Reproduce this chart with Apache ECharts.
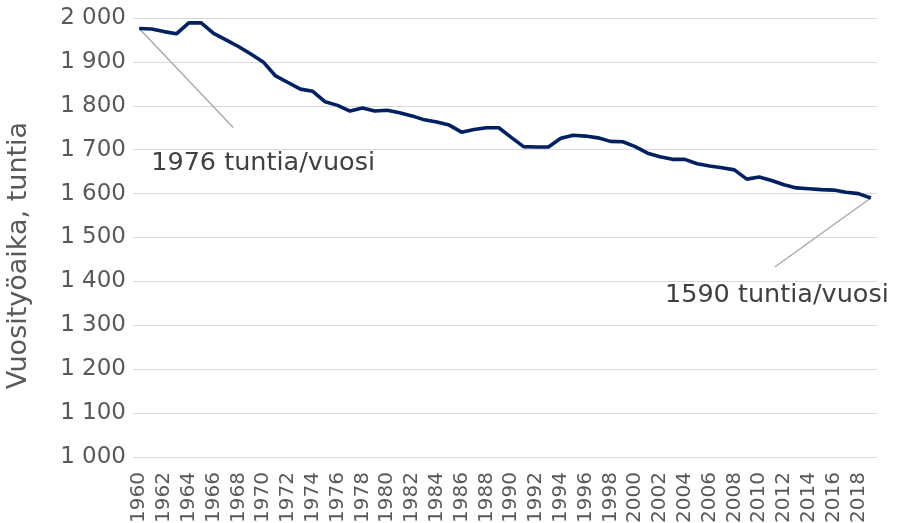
<!DOCTYPE html>
<html>
<head>
<meta charset="utf-8">
<script src="https://cdn.jsdelivr.net/npm/echarts@6/dist/echarts.min.js"></script>
<style>
html,body{margin:0;padding:0;background:#fff;}
#chart{width:897px;height:523px;}
</style>
</head>
<body>
<div id="chart"></div>
<script>
// vuodet 1960-2019
var years = [];
for (var y = 1960; y <= 2019; y++) years.push(String(y));

var hours = [
    1976, 1975, 1969, 1964, 1989, 1989, 1965, 1950, 1935, 1918,
    1900, 1868, 1853, 1838, 1833, 1809, 1801, 1788, 1795, 1788,
    1790, 1784, 1777, 1768, 1763, 1756, 1740, 1746, 1750, 1750,
    1728, 1707, 1706, 1706, 1726, 1733, 1731, 1727, 1719, 1718,
    1707, 1692, 1684, 1678, 1678, 1668, 1663, 1659, 1654, 1633,
    1638, 1630, 1620, 1613, 1611, 1609, 1608, 1603, 1600, 1590
];

var yTicks = {min: 1000, max: 2000, step: 100};
var notes = ['1976 tuntia/vuosi', '1590 tuntia/vuosi'];

var txt = '#595959';
var font = 'DejaVu Sans';

function fmt(v){
    var s = String(v);
    if (s.length > 3) s = s.slice(0, s.length - 3) + ' ' + s.slice(-3);
    return s;
}

var myChart = echarts.init(document.getElementById('chart'));
var option = {
    animation: false,
    grid: {
        left: 133,
        right: 20,
        top: 18,
        bottom: 66,
        containLabel: false,
        outerBoundsMode: 'none'
    },
    xAxis: {
        type: 'category',
        data: years,
        boundaryGap: true,
        axisLine: {show: false},
        axisTick: {show: false},
        axisLabel: {
            interval: 1,
            rotate: 90,
            color: txt,
            fontFamily: font,
            fontSize: 20,
            margin: 15
        }
    },
    yAxis: {
        type: 'value',
        min: yTicks.min,
        max: yTicks.max,
        interval: yTicks.step,
        name: 'Vuosityöaika, tuntia',
        nameLocation: 'middle',
        nameGap: 101,
        nameTextStyle: {
            color: txt,
            fontFamily: font,
            fontSize: 27,
            padding: [0, 36, 0, 0]
        },
        axisLine: {show: false},
        axisTick: {show: false},
        axisLabel: {
            color: txt,
            fontFamily: font,
            fontSize: 23,
            margin: 7,
            formatter: fmt
        },
        splitLine: {
            lineStyle: {color: '#d9d9d9', width: 1}
        }
    },
    series: [
        {
            type: 'line',
            data: hours,
            showSymbol: false,
            lineStyle: {color: '#002060', width: 3.6},
            itemStyle: {color: '#002060'}
        }
    ]
};
myChart.setOption(option);

// selitteet ja viivat ensimmäiseen ja viimeiseen pisteeseen
var p0 = myChart.convertToPixel({seriesIndex: 0}, [0, hours[0]]);
var p1 = myChart.convertToPixel({seriesIndex: 0}, [hours.length - 1, hours[hours.length - 1]]);
myChart.setOption({
    graphic: [
        {type: 'line', shape: {x1: p0[0], y1: p0[1], x2: p0[0] + 94, y2: p0[1] + 99},
         style: {stroke: '#a6a6a6', lineWidth: 1.3}},
        {type: 'text', x: p0[0] + 12, y: p0[1] + 122,
         style: {text: notes[0], fill: '#404040', font: '25.5px "' + font + '"',
                 textAlign: 'left', textVerticalAlign: 'top'}},
        {type: 'line', shape: {x1: p1[0], y1: p1[1], x2: p1[0] - 96, y2: p1[1] + 69},
         style: {stroke: '#a6a6a6', lineWidth: 1.3}},
        {type: 'text', x: p1[0] + 18, y: p1[1] + 84,
         style: {text: notes[1], fill: '#404040', font: '25.5px "' + font + '"',
                 textAlign: 'right', textVerticalAlign: 'top'}}
    ]
});
</script>
</body>
</html>
